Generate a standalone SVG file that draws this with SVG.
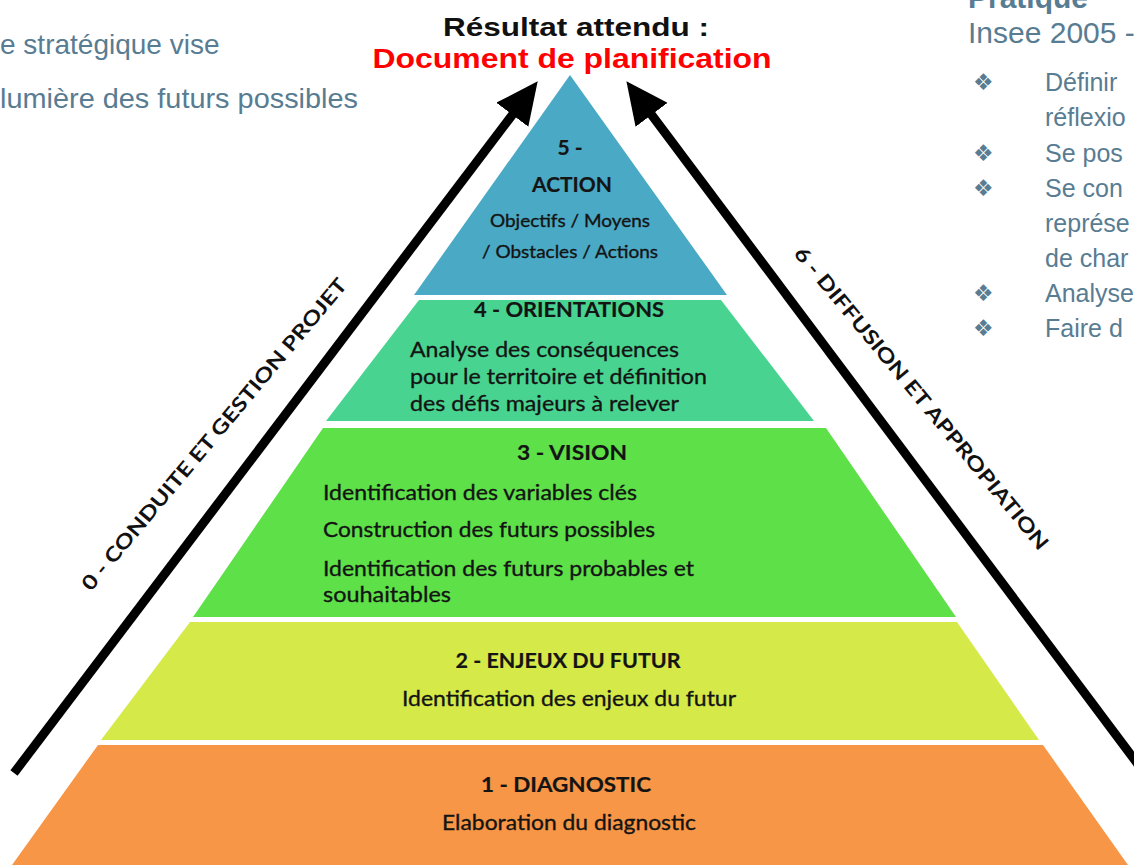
<svg xmlns="http://www.w3.org/2000/svg" width="1134" height="865" viewBox="0 0 1134 865">
<defs>
<style>
.side{font-family:"Liberation Sans",Arial,sans-serif;fill:#587c92}
.pt{font-family:Lato,"Open Sans",sans-serif;fill:#141414;stroke:#141414;stroke-width:0.35}
.b{font-weight:700;stroke-width:0.2}
.arrowtxt{font-family:Lato,"Open Sans",sans-serif;font-weight:700;font-size:20px;fill:#111}
.bul{font-family:"DejaVu Sans",sans-serif;font-size:23px;fill:#587c92}
.conn{stroke:#000;stroke-width:9;fill:none;marker-end:url(#head)}
</style>
<marker id="head" markerUnits="userSpaceOnUse" viewBox="0 0 44 40" markerWidth="44" markerHeight="40" refX="16" refY="20" orient="auto">
<path d="M0,0 L42,20 L0,40 Z" fill="#000"/>
</marker>
</defs>
<rect width="1134" height="865" fill="#fff"/>

<g id="side-left">
<text class="side" x="0" y="54" font-size="28">e stratégique vise</text>
<text class="side" x="0" y="108" font-size="28" textLength="358" lengthAdjust="spacingAndGlyphs">lumière des futurs possibles</text>
</g>

<g id="side-right">
<text class="side" x="968" y="8" font-size="30" font-weight="700">Pratique</text>
<text class="side" x="968" y="43" font-size="30">Insee 2005 -</text>
<text class="bul" x="973" y="90">❖</text>
<text class="side" x="1045" y="91" font-size="25">Définir</text>
<text class="side" x="1045" y="126" font-size="25">réflexio</text>
<text class="bul" x="973" y="161">❖</text>
<text class="side" x="1045" y="162" font-size="25">Se pos</text>
<text class="bul" x="973" y="196">❖</text>
<text class="side" x="1045" y="197" font-size="25">Se con</text>
<text class="side" x="1045" y="232" font-size="25">représe</text>
<text class="side" x="1045" y="267" font-size="25">de char</text>
<text class="bul" x="973" y="301">❖</text>
<text class="side" x="1045" y="302" font-size="25">Analyse</text>
<text class="bul" x="973" y="336">❖</text>
<text class="side" x="1045" y="337" font-size="25">Faire d</text>
</g>

<g id="title">
<text x="576" y="36" text-anchor="middle" font-family="Liberation Sans,Arial,sans-serif" font-weight="700" font-size="25" fill="#111" textLength="266" lengthAdjust="spacingAndGlyphs">Résultat attendu :</text>
<text x="572" y="68" text-anchor="middle" font-family="Liberation Sans,Arial,sans-serif" font-weight="700" font-size="28" fill="#ff0000" textLength="399" lengthAdjust="spacingAndGlyphs">Document de planification</text>
</g>

<g id="layer5-action">
<polygon points="570,75 414,295 727,295" fill="#4aa9c5"/>
<text class="pt b" x="570" y="155" text-anchor="middle" font-size="21">5 -</text>
<text class="pt b" x="572" y="192" text-anchor="middle" font-size="21" textLength="80" lengthAdjust="spacingAndGlyphs">ACTION</text>
<text class="pt" x="570" y="227" text-anchor="middle" font-size="18" fill="#2a2a2a" textLength="160" lengthAdjust="spacingAndGlyphs">Objectifs / Moyens</text>
<text class="pt" x="570" y="258" text-anchor="middle" font-size="18" fill="#2a2a2a" textLength="176" lengthAdjust="spacingAndGlyphs">/ Obstacles / Actions</text>
</g>

<g id="layer4-orientations">
<polygon points="419,300 721,300 814,421 326,421" fill="#48d490"/>
<text class="pt b" x="569" y="317" text-anchor="middle" font-size="20" textLength="190" lengthAdjust="spacingAndGlyphs">4 - ORIENTATIONS</text>
<text class="pt" x="410" y="357" font-size="22" textLength="269" lengthAdjust="spacingAndGlyphs">Analyse des conséquences</text>
<text class="pt" x="410" y="384" font-size="22" textLength="297" lengthAdjust="spacingAndGlyphs">pour le territoire et définition</text>
<text class="pt" x="410" y="411" font-size="22" textLength="269" lengthAdjust="spacingAndGlyphs">des défis majeurs à relever</text>
</g>

<g id="layer3-vision">
<polygon points="323,428 826,428 956,617 193,617" fill="#5ee048"/>
<text class="pt b" x="572" y="460" text-anchor="middle" font-size="21" textLength="110" lengthAdjust="spacingAndGlyphs">3 -  VISION</text>
<text class="pt" x="323" y="500" font-size="22" textLength="314" lengthAdjust="spacingAndGlyphs">Identification des variables clés</text>
<text class="pt" x="323" y="537" font-size="22" textLength="332" lengthAdjust="spacingAndGlyphs">Construction des futurs possibles</text>
<text class="pt" x="323" y="576" font-size="22" textLength="371" lengthAdjust="spacingAndGlyphs">Identification des futurs probables et</text>
<text class="pt" x="323" y="602" font-size="22" textLength="128" lengthAdjust="spacingAndGlyphs">souhaitables</text>
</g>

<g id="layer2-enjeux">
<polygon points="190,622 957,622 1039,740 101,740" fill="#d5e948"/>
<text class="pt b" x="568" y="668" text-anchor="middle" font-size="20" textLength="225" lengthAdjust="spacingAndGlyphs">2 - ENJEUX DU FUTUR</text>
<text class="pt" x="569" y="706" text-anchor="middle" font-size="22" textLength="334" lengthAdjust="spacingAndGlyphs">Identification des enjeux du futur</text>
</g>

<g id="layer1-diagnostic">
<polygon points="98,745 1043,745 1128,865 12,865" fill="#f79646"/>
<text class="pt b" x="566" y="792" text-anchor="middle" font-size="20" textLength="170" lengthAdjust="spacingAndGlyphs">1 - DIAGNOSTIC</text>
<text class="pt" x="569" y="830" text-anchor="middle" font-size="22" textLength="254" lengthAdjust="spacingAndGlyphs">Elaboration du diagnostic</text>
</g>

<g id="connectors">
<line class="conn" x1="14" y1="773" x2="522" y2="102"/>
<line class="conn" x1="1146" y1="775" x2="642" y2="102"/>
<text class="arrowtxt" transform="translate(91,592) rotate(-50)" textLength="400" lengthAdjust="spacingAndGlyphs">0 - CONDUITE ET GESTION PROJET</text>
<text class="arrowtxt" transform="translate(793,254) rotate(50.4)" textLength="386" lengthAdjust="spacingAndGlyphs">6 - DIFFUSION ET APPROPIATION</text>
</g>
</svg>
